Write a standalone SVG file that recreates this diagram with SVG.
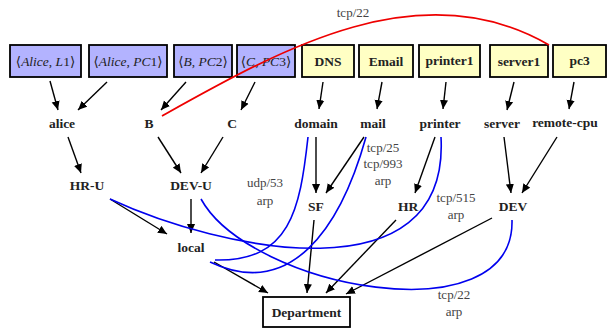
<svg xmlns="http://www.w3.org/2000/svg" width="607" height="329" viewBox="0 0 607 329" font-family="Liberation Serif, DejaVu Serif, serif">
<defs>
<marker id="ah" viewBox="0 0 10 10" refX="10" refY="5" markerWidth="9" markerHeight="9" markerUnits="userSpaceOnUse" orient="auto">
<path d="M0,0.5 L10,5 L0,9.5 z" fill="#000"/>
</marker>
<style>
text{fill:#222;text-anchor:middle}
.b{font-weight:bold;font-size:13.5px}
.m{font-size:13.5px}
.l{font-size:13px;fill:#444}
.bx{fill:#b3b3ff;stroke:#000;stroke-width:1.8}
.yx{fill:#ffffc4;stroke:#000;stroke-width:1.8}
.dx{fill:#fff;stroke:#000;stroke-width:1.8}
.e{stroke:#000;stroke-width:1.4;fill:none;marker-end:url(#ah)}
.u{stroke:#0000ee;stroke-width:1.6;fill:none}
.r{stroke:#ee0000;stroke-width:1.8;fill:none}
</style>
</defs>
<g id="n_alice_l1"><rect class="bx" x="10" y="45" width="71" height="32"/><text class="m" x="45.5" y="65.5">⟨<tspan font-style="italic">Alice</tspan>, <tspan font-style="italic">L</tspan>1⟩</text></g>
<g id="n_alice_pc1"><rect class="bx" x="89" y="45" width="78" height="32"/><text class="m" x="128" y="65.5">⟨<tspan font-style="italic">Alice</tspan>, <tspan font-style="italic">PC</tspan>1⟩</text></g>
<g id="n_b_pc2"><rect class="bx" x="174" y="45" width="58" height="32"/><text class="m" x="203" y="65.5">⟨<tspan font-style="italic">B</tspan>, <tspan font-style="italic">PC</tspan>2⟩</text></g>
<g id="n_c_pc3"><rect class="bx" x="237" y="45" width="58" height="32"/><text class="m" x="266" y="65.5">⟨<tspan font-style="italic">C</tspan>, <tspan font-style="italic">PC</tspan>3⟩</text></g>
<g id="n_dns"><rect class="yx" x="302" y="45" width="52" height="32"/><text class="b" x="328" y="65.5">DNS</text></g>
<g id="n_email"><rect class="yx" x="359" y="45" width="54" height="32"/><text class="b" x="386" y="65.5">Email</text></g>
<g id="n_printer1"><rect class="yx" x="419" y="45" width="61" height="32"/><text class="b" x="449.5" y="65">printer1</text></g>
<g id="n_server1"><rect class="yx" x="490" y="45" width="58" height="32"/><text class="b" x="519" y="66">server1</text></g>
<g id="n_pc3"><rect class="yx" x="553" y="45" width="53" height="32"/><text class="b" x="579.5" y="65">pc3</text></g>
<g id="n_alice"><text class="b" x="62" y="128">alice</text></g>
<g id="n_b"><text class="b" x="149" y="128">B</text></g>
<g id="n_c"><text class="b" x="232" y="128">C</text></g>
<g id="n_domain"><text class="b" x="316" y="128">domain</text></g>
<g id="n_mail"><text class="b" x="373" y="128">mail</text></g>
<g id="n_printer"><text class="b" x="440" y="128">printer</text></g>
<g id="n_server"><text class="b" x="502" y="128">server</text></g>
<g id="n_remote"><text class="b" x="565" y="127">remote-cpu</text></g>
<g id="n_hru"><text class="b" x="87" y="190">HR-U</text></g>
<g id="n_devu"><text class="b" x="191" y="190">DEV-U</text></g>
<g id="n_sf"><text class="b" x="316" y="211">SF</text></g>
<g id="n_hr"><text class="b" x="408" y="211">HR</text></g>
<g id="n_dev"><text class="b" x="513" y="211">DEV</text></g>
<g id="n_local"><text class="b" x="191" y="252">local</text></g>
<g id="n_department"><rect class="dx" x="263" y="297" width="87" height="30"/><text class="b" x="306.5" y="316.5">Department</text></g>
<g id="connectors">
<path class="e" d="M50,81 L58,110"/>
<path class="e" d="M107,82 L78,110"/>
<path class="e" d="M186,82 L161,110"/>
<path class="e" d="M255,82 L241,110"/>
<path class="e" d="M323,82 L319,109"/>
<path class="e" d="M382,82 L377,109"/>
<path class="e" d="M446,82 L443,109"/>
<path class="e" d="M514,82 L507,110"/>
<path class="e" d="M574,82 L569,109"/>
<path class="e" d="M68,137 L81,173"/>
<path class="e" d="M158,137 L181,173"/>
<path class="e" d="M223,137 L201,173"/>
<path class="e" d="M316,137 L316,193"/>
<path class="e" d="M364,137 L326,193"/>
<path class="e" d="M435,137 L415,193"/>
<path class="e" d="M504,137 L511,193"/>
<path class="e" d="M557,137 L522,193"/>
<path class="e" d="M110,199 L167,234"/>
<path class="e" d="M191,199 L191,233"/>
<path class="e" d="M214,262 L268,293"/>
<path class="e" d="M314,220 L307,293"/>
<path class="e" d="M396,220 L326,293"/>
<path class="e" d="M492,218 L346,294"/>
<path class="u" d="M308,137 C300,210 290,262 215,260"/>
<path class="u" d="M366,137 C340,230 290,300 210,262"/>
<path class="u" d="M110,199 C220,250 450,300 441,137"/>
<path class="u" d="M201,199 C250,288 515,338 512,220"/>
<path class="r" d="M162,116 C280,50 420,-30 549,45"/>
<text class="l" x="353" y="17">tcp/22</text>
<text class="l" x="265" y="187">udp/53</text>
<text class="l" x="265" y="205">arp</text>
<text class="l" x="383" y="152">tcp/25</text>
<text class="l" x="383" y="168">tcp/993</text>
<text class="l" x="383" y="185">arp</text>
<text class="l" x="456" y="202">tcp/515</text>
<text class="l" x="456" y="219">arp</text>
<text class="l" x="454" y="299">tcp/22</text>
<text class="l" x="454" y="316">arp</text>
</g>
</svg>
